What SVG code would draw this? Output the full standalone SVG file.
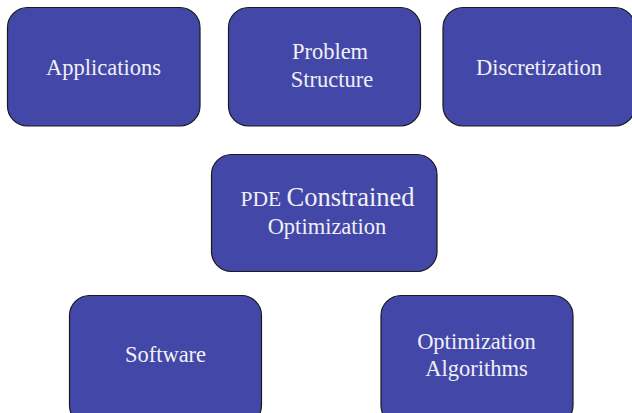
<svg xmlns="http://www.w3.org/2000/svg" width="632" height="413" viewBox="0 0 632 413">
<style>
.box{fill:#4348A8;stroke:#1a1a1a;stroke-width:1.2}
.t{font-family:"Liberation Serif","Times New Roman",serif;fill:#F0F0F6;text-anchor:middle;font-size:22.5px}
</style>
<rect width="632" height="413" fill="#ffffff"/>
<g id="applications"><rect class="box" x="7.5" y="7.5" width="192.5" height="118.5" rx="20"/><text class="t" x="103.5" y="75">Applications</text></g>
<g id="problem-structure"><rect class="box" x="228.5" y="7.5" width="192" height="118.5" rx="20"/><text class="t" x="330" y="59">Problem</text><text class="t" x="332" y="87">Structure</text></g>
<g id="discretization"><rect class="box" x="443" y="7.5" width="192" height="118.5" rx="20"/><text class="t" x="539" y="75">Discretization</text></g>
<g id="pde"><rect class="box" x="211.5" y="154.5" width="225.5" height="117" rx="20"/><text class="t" x="327.5" y="206"><tspan font-size="21.5">PDE </tspan><tspan font-size="26.5">Constrained</tspan></text><text class="t" x="327" y="234">Optimization</text></g>
<g id="software"><rect class="box" x="69.5" y="295.5" width="192" height="130" rx="20"/><text class="t" x="165.5" y="362">Software</text></g>
<g id="optimization-algorithms"><rect class="box" x="381" y="295.5" width="192" height="130" rx="20"/><text class="t" x="476.5" y="349">Optimization</text><text class="t" x="476.5" y="376">Algorithms</text></g>
<g id="connectors"></g>
</svg>
